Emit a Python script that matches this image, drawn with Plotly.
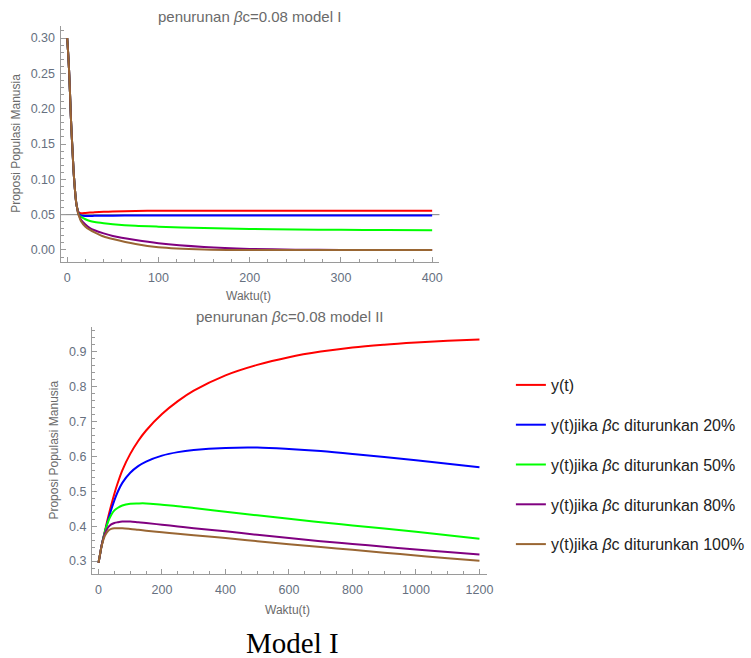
import plotly.graph_objects as go

# ---------------- Model I : decline of the infected human proportion ----------------
t_m1 = [0, 1, 2, 3, 4, 5, 6, 7, 8, 9, 10, 11, 12, 13, 15, 20, 25, 30, 40, 50,
        75, 100, 150, 200, 250, 300, 350, 400]
y_m1_base = [0.300, 0.280, 0.256, 0.225, 0.190, 0.162, 0.137, 0.112, 0.094, 0.078,
             0.066, 0.059, 0.055, 0.053, 0.052, 0.0525, 0.053, 0.0533, 0.054, 0.0545,
             0.0553, 0.0556, 0.0557, 0.0557, 0.0557, 0.0557, 0.0557, 0.0557]
y_m1_20 = [0.300, 0.280, 0.256, 0.225, 0.190, 0.162, 0.137, 0.112, 0.094, 0.078,
           0.066, 0.059, 0.054, 0.051, 0.049, 0.048, 0.0482, 0.0483, 0.0485, 0.0486,
           0.0487, 0.0488, 0.0488, 0.0488, 0.0488, 0.0488, 0.0488, 0.0488]
y_m1_50 = [0.300, 0.280, 0.256, 0.225, 0.190, 0.162, 0.137, 0.112, 0.094, 0.078,
           0.066, 0.059, 0.053, 0.050, 0.047, 0.0435, 0.041, 0.0395, 0.0378, 0.0365,
           0.0342, 0.033, 0.031, 0.0298, 0.029, 0.0285, 0.0282, 0.028]
y_m1_80 = [0.300, 0.280, 0.256, 0.225, 0.190, 0.162, 0.137, 0.112, 0.094, 0.078,
           0.066, 0.059, 0.052, 0.049, 0.043, 0.036, 0.031, 0.028, 0.0235, 0.0198,
           0.014, 0.0095, 0.0042, 0.0015, 0.0005, 0.0, 0.0, 0.0]
y_m1_100 = [0.300, 0.280, 0.256, 0.225, 0.190, 0.162, 0.137, 0.112, 0.094, 0.078,
            0.066, 0.059, 0.051, 0.048, 0.041, 0.033, 0.0285, 0.025, 0.019, 0.0155,
            0.0085, 0.004, 0.0008, 0.0, 0.0, 0.0, 0.0, 0.0]

# ---------------- Model II ----------------
t_m2 = [0, 5, 10, 20, 30, 40, 50, 60, 75, 100, 125, 150, 200, 250, 300, 400, 500,
        600, 700, 800, 900, 1000, 1100, 1200]
y_m2_base = [0.295, 0.320, 0.345, 0.385, 0.424, 0.460, 0.493, 0.522, 0.560, 0.607,
             0.644, 0.674, 0.721, 0.758, 0.788, 0.832, 0.862, 0.884, 0.900, 0.912,
             0.920, 0.926, 0.931, 0.935]
y_m2_20 = [0.295, 0.320, 0.345, 0.383, 0.416, 0.447, 0.474, 0.497, 0.524, 0.553,
           0.572, 0.585, 0.602, 0.612, 0.618, 0.624, 0.625, 0.621, 0.615, 0.607,
           0.598, 0.589, 0.579, 0.569]
y_m2_50 = [0.295, 0.320, 0.345, 0.383, 0.412, 0.432, 0.445, 0.452, 0.459, 0.464,
           0.465, 0.465, 0.461, 0.457, 0.452, 0.441, 0.431, 0.421, 0.411, 0.402,
           0.393, 0.384, 0.374, 0.364]
y_m2_80 = [0.295, 0.320, 0.345, 0.378, 0.396, 0.405, 0.409, 0.411, 0.413, 0.413,
           0.411, 0.409, 0.404, 0.399, 0.394, 0.385, 0.375, 0.366, 0.357, 0.349,
           0.341, 0.333, 0.326, 0.319]
y_m2_100 = [0.295, 0.320, 0.343, 0.372, 0.386, 0.392, 0.394, 0.394, 0.394, 0.392,
            0.3895, 0.387, 0.3825, 0.378, 0.374, 0.366, 0.357, 0.348, 0.340, 0.332,
            0.324, 0.316, 0.308, 0.301]

series_names = [
    "y(t)",
    "y(t)jika <i>β</i>c diturunkan 20%",
    "y(t)jika <i>β</i>c diturunkan 50%",
    "y(t)jika <i>β</i>c diturunkan 80%",
    "y(t)jika <i>β</i>c diturunkan 100%",
]
series_colors = ["#ff0000", "#0000ff", "#00ff00", "#800080", "#996633"]

W, H = 751, 658


def px_x(p):
    return p / W


def px_y(p):
    return 1 - p / H


fig = go.Figure()

m1 = [y_m1_base, y_m1_20, y_m1_50, y_m1_80, y_m1_100]
m2 = [y_m2_base, y_m2_20, y_m2_50, y_m2_80, y_m2_100]

for name, color, ys in zip(series_names, series_colors, m1):
    fig.add_trace(go.Scatter(x=t_m1, y=ys, mode="lines", name=name,
                             line=dict(color=color, width=2, shape="spline", smoothing=0.6),
                             showlegend=False, xaxis="x", yaxis="y"))

for i, (name, color, ys) in enumerate(zip(series_names, series_colors, m2)):
    fig.add_trace(go.Scatter(x=t_m2, y=ys, mode="lines", name=name,
                             line=dict(color=color, width=2, shape="spline", smoothing=1.0),
                             legendgroup=f"g{i}", showlegend=True,
                             xaxis="x2", yaxis="y2"))

axis_gray = "#9a9a9a"
label_gray = "#667080"
tick_font = dict(family="Liberation Sans, Arial", size=12.5, color=label_gray)

common_axis = dict(showgrid=False, zeroline=False, showline=True, linecolor=axis_gray,
                   linewidth=1, ticks="inside", ticklen=5, tickcolor=axis_gray,
                   tickwidth=1, tickfont=tick_font)

fig.update_layout(
    width=W, height=H,
    margin=dict(l=0, r=0, t=0, b=0),
    paper_bgcolor="white", plot_bgcolor="white",
    xaxis=dict(domain=[px_x(61), px_x(443)], range=[-7.3, 408], anchor="y",
               tickvals=[0, 100, 200, 300, 400], ticklabelstandoff=4,
               minor=dict(dtick=20, tick0=0, ticks="inside", ticklen=3, tickcolor=axis_gray),
               **common_axis),
    yaxis=dict(domain=[px_y(262), px_y(26)], range=[-0.017, 0.317], anchor="x",
               tickvals=[0, 0.05, 0.10, 0.15, 0.20, 0.25, 0.30], tickformat=".2f",
               ticklabelstandoff=2,
               minor=dict(dtick=0.01, tick0=0, ticks="inside", ticklen=3, tickcolor=axis_gray),
               **common_axis),
    xaxis2=dict(domain=[px_x(92.7), px_x(491)], range=[-20.6, 1224], anchor="y2",
                tickvals=[0, 200, 400, 600, 800, 1000, 1200], ticklabelstandoff=4,
                minor=dict(dtick=50, tick0=0, ticks="inside", ticklen=3, tickcolor=axis_gray),
                **common_axis),
    yaxis2=dict(domain=[px_y(574.3), px_y(327)], range=[0.262, 0.9705], anchor="x2",
                tickvals=[0.3, 0.4, 0.5, 0.6, 0.7, 0.8, 0.9], tickformat=".1f",
                ticklabelstandoff=2,
                minor=dict(dtick=0.02, tick0=0.3, ticks="inside", ticklen=3, tickcolor=axis_gray),
                **common_axis),
    legend=dict(x=px_x(515), y=px_y(368), xanchor="left", yanchor="top",
                font=dict(family="Liberation Sans, Arial", size=16, color="#222222"),
                tracegroupgap=16, bgcolor="rgba(0,0,0,0)", borderwidth=0),
    showlegend=True,
)

# reference level at 0.05 in the Model I panel
fig.add_shape(type="line", xref="x domain", yref="y", x0=0, x1=1, y0=0.05, y1=0.05,
              line=dict(color="#808080", width=1), layer="below")

title_font = dict(family="Liberation Sans, Arial", size=15, color="#6a6a6a")
label_font = dict(family="Liberation Sans, Arial", size=12, color="#6a6a6a")


def text_at(x, y, text, font, angle=0):
    fig.add_annotation(x=px_x(x), y=px_y(y), xref="paper", yref="paper", text=text,
                       showarrow=False, font=font, textangle=angle,
                       xanchor="center", yanchor="middle")


text_at(252, 16, "penurunan <i>β</i>c=0.08 model I", title_font)
text_at(250, 296, "Waktu(t)", label_font)
text_at(16, 143, "Proposi Populasi Manusia", label_font, angle=-90)

text_at(291.7, 317, "penurunan <i>β</i>c=0.08 model II", title_font)
text_at(290, 610, "Waktu(t)", label_font)
text_at(54, 450, "Proposi Populasi Manusia", label_font, angle=-90)

text_at(295, 643, "Model I", dict(family="Liberation Serif, Times New Roman", size=29, color="black"))

fig.write_html("out.html")
